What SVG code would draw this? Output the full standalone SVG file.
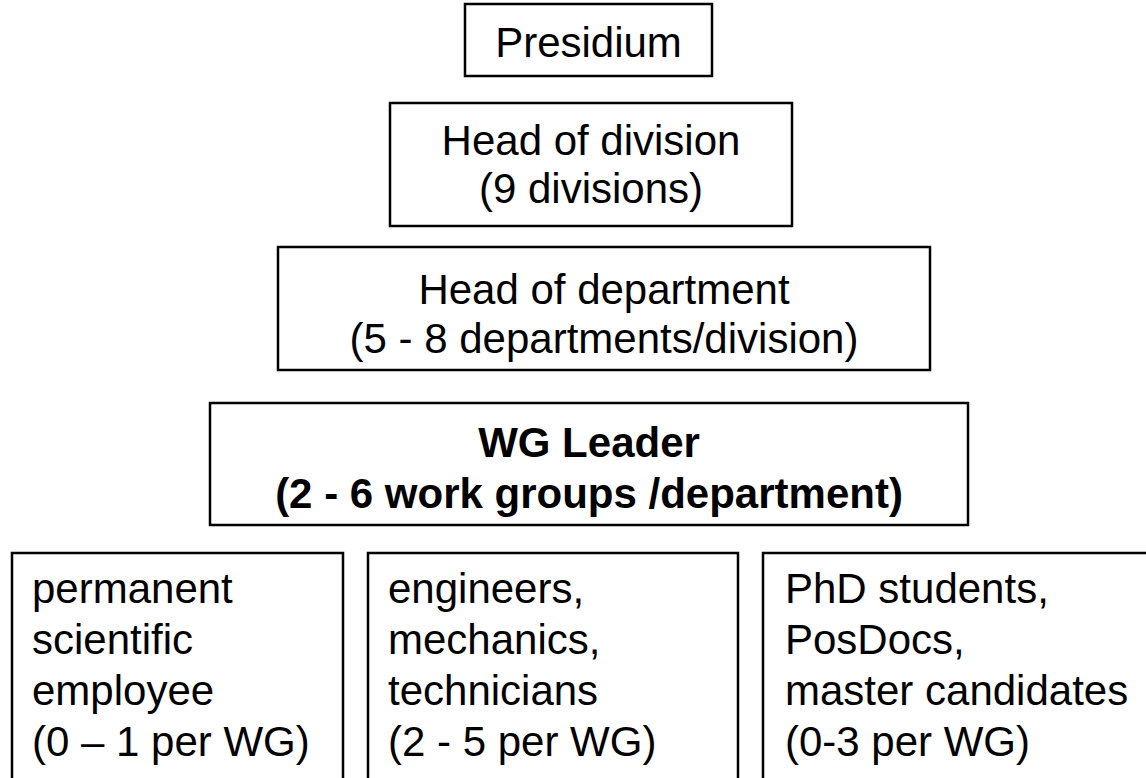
<svg xmlns="http://www.w3.org/2000/svg" width="1146" height="778" viewBox="0 0 1146 778">
<style>
.box{fill:#fff;stroke:#000;stroke-width:2.5}
.t{font-family:"Liberation Sans",Arial,sans-serif;font-size:42px;fill:#000}
.c{text-anchor:middle}
.b{font-weight:bold}
</style>
<rect width="1146" height="778" fill="#fff"/>
<g id="connectors"></g>
<g id="presidium">
<rect class="box" x="465" y="4" width="247" height="72"/>
<text class="t c" x="588.5" y="57">Presidium</text>
</g>
<g id="head-division">
<rect class="box" x="390" y="103" width="402" height="123"/>
<text class="t c" x="591" y="155">Head of division</text>
<text class="t c" x="591" y="203">(9 divisions)</text>
</g>
<g id="head-department">
<rect class="box" x="278" y="247" width="652" height="123"/>
<text class="t c" x="604" y="304">Head of department</text>
<text class="t c" x="604" y="353">(5 - 8 departments/division)</text>
</g>
<g id="wg-leader">
<rect class="box" x="210" y="403" width="758" height="122"/>
<text class="t c b" x="589" y="457">WG Leader</text>
<text class="t c b" x="589" y="508">(2 - 6 work groups /department)</text>
</g>
<g id="permanent">
<rect class="box" x="12" y="553" width="331" height="240"/>
<text class="t" x="32" y="603">permanent</text>
<text class="t" x="32" y="654">scientific</text>
<text class="t" x="32" y="705">employee</text>
<text class="t" x="32" y="756">(0 – 1 per WG)</text>
</g>
<g id="engineers">
<rect class="box" x="368" y="553" width="370" height="240"/>
<text class="t" x="388" y="603">engineers,</text>
<text class="t" x="388" y="654">mechanics,</text>
<text class="t" x="388" y="705">technicians</text>
<text class="t" x="388" y="756">(2 - 5 per WG)</text>
</g>
<g id="students">
<rect class="box" x="763" y="553" width="400" height="240"/>
<text class="t" x="785" y="603">PhD students,</text>
<text class="t" x="785" y="654">PosDocs,</text>
<text class="t" x="785" y="705">master candidates</text>
<text class="t" x="785" y="756">(0-3 per WG)</text>
</g>
</svg>
